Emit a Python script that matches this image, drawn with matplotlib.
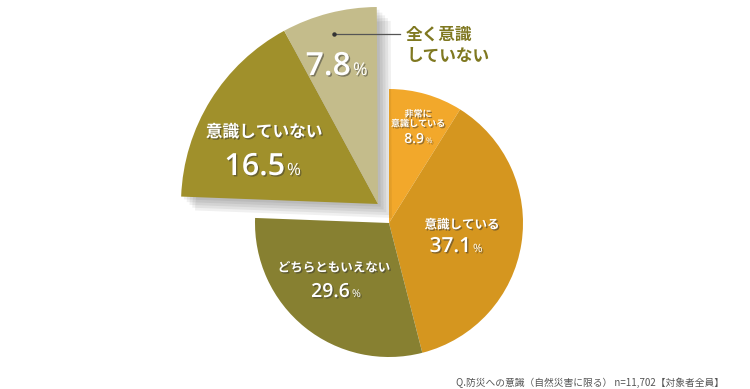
import matplotlib.pyplot as plt
import matplotlib.patheffects as pe

plt.rcParams['font.family'] = ['Noto Sans CJK JP', 'DejaVu Sans']

# data
labels = ['非常に\n意識している', '意識している', 'どちらともいえない', '意識していない', '全く意識\nしていない']
values = [8.9, 37.1, 29.6, 16.5, 7.8]
colors = ['#F2A82B', '#D5961F', '#878031', '#A0902B', '#C4BC8B']
note = 'Q.防災への意識（自然災害に限る） n=11,702【対象者全員】'

W, H = 750, 389
fig = plt.figure(figsize=(7.5, 3.89), dpi=100)
ax = fig.add_axes([0, 0, 1, 1])
ax.set_xlim(0, W)
ax.set_ylim(0, H)
ax.set_aspect('equal')
ax.axis('off')

def Y(y):
    return H - y

# main pie (three conscious-ish slices), rest left empty
main_c = (389, Y(223))
main_r = 134
ax.pie([v / 100 for v in values[:3]], normalize=False, startangle=90,
       counterclock=False, colors=colors[:3], center=main_c, radius=main_r,
       wedgeprops=dict(linewidth=0))

# exploded & enlarged "not conscious" part
start = 90 - 360 * sum(values[:3]) / 100
ex_c = (378, Y(204))
ex_r = 197
shadow = [pe.SimplePatchShadow(offset=(d, -d), shadow_rgbFace='k', alpha=0.06)
          for d in (2, 4, 6, 8, 10)]
wedges, _ = ax.pie([v / 100 for v in values[3:]], normalize=False,
                   startangle=start, counterclock=False, colors=colors[3:],
                   center=ex_c, radius=ex_r, wedgeprops=dict(linewidth=0))
for w in wedges:
    w.set_path_effects(shadow + [pe.Normal()])
    w.set_zorder(3)

ax.set_xlim(0, W)
ax.set_ylim(0, H)

tshadow = [pe.withSimplePatchShadow(offset=(1, -1), shadow_rgbFace='#333333', alpha=0.5)]

def label(x, y, txt, size):
    ax.text(x, Y(y), txt, ha='center', va='center', color='white', fontsize=size,
            fontweight='bold', zorder=5, path_effects=tshadow, linespacing=1.1)

def pct(xr, base, num, size):
    ax.text(xr, Y(base), num, ha='right', va='baseline', color='white',
            fontsize=size, fontweight='semibold', zorder=5, path_effects=tshadow,
            family=['Open Sans', 'DejaVu Sans'])
    ax.text(xr + 2, Y(base), '%', ha='left', va='baseline', color='white',
            fontsize=size * 0.55, zorder=5, path_effects=tshadow,
            family=['Open Sans', 'DejaVu Sans'])

# slice labels
label(418, 119, labels[0], 6.5)
pct(424, 143, f'{values[0]}', 10)
label(462, 225, labels[1], 9)
pct(471, 252, f'{values[1]}', 15)
label(334, 268, labels[2], 9)
pct(350, 297, f'{values[2]}', 14)
label(264, 132, labels[3], 12)
pct(285, 175, f'{values[3]}', 22)
pct(351, 75, f'{values[4]}', 23)

# callout for 全く意識していない
ax.plot([334, 400], [Y(34), Y(34)], color='#555555', lw=0.9, zorder=6)
ax.plot([334], [Y(34)], 'o', color='#333333', ms=2.2, zorder=6)
ax.text(406, Y(45), labels[4], ha='left', va='center', color='#7F7820',
        fontsize=12, fontweight='bold', linespacing=1.25)

ax.text(724, Y(383), note, ha='right', va='center', color='#555555', fontsize=7)

fig.savefig('out.png', dpi=100)
